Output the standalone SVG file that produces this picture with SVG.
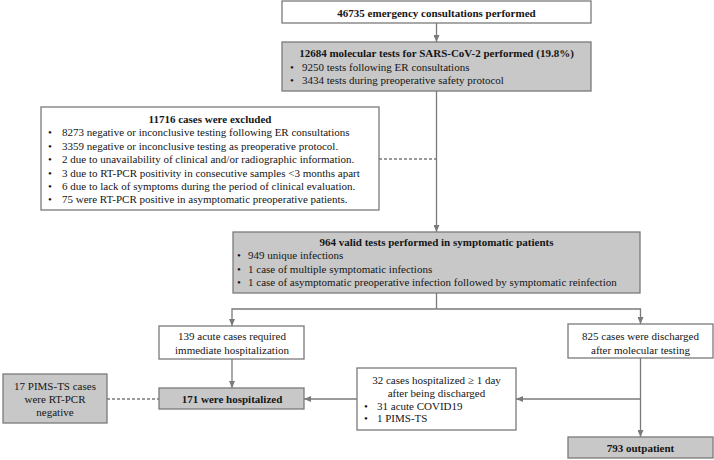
<svg xmlns="http://www.w3.org/2000/svg" width="714" height="460" viewBox="0 0 714 460">
<style>
.t{font-family:"Liberation Serif","Times New Roman",serif;font-size:11px;fill:#151515}
.c{text-anchor:middle}
.b{font-weight:bold}
.box{fill:#fff;stroke:#7a7a7a;stroke-width:1.3}
.gbox{fill:#c8c8c8;stroke:#7a7a7a;stroke-width:1.3}
.ln{stroke:#7a7a7a;stroke-width:1.3;fill:none}
.dash{stroke-dasharray:3 2}
</style>
<defs>
<marker id="ah" markerUnits="userSpaceOnUse" markerWidth="7" markerHeight="6" refX="7" refY="3" orient="auto">
<path d="M0,0 L7,3 L0,6 z" fill="#7a7a7a"/>
</marker>
</defs>
<rect width="714" height="460" fill="#fff"/>
<g id="connectors">
<line class="ln" x1="436.5" y1="23" x2="436.5" y2="42" marker-end="url(#ah)"/>
<line class="ln" x1="436.5" y1="91" x2="436.5" y2="232" marker-end="url(#ah)"/>
<line class="ln dash" x1="379" y1="159" x2="436.5" y2="159"/>
<polyline class="ln" points="436.5,293 436.5,309"/>
<polyline class="ln" points="436.5,309 232,309 232,326" marker-end="url(#ah)"/>
<polyline class="ln" points="436.5,309 640.5,309 640.5,324" marker-end="url(#ah)"/>
<line class="ln" x1="232" y1="359" x2="232" y2="388" marker-end="url(#ah)"/>
<line class="ln dash" x1="107" y1="399" x2="159" y2="399"/>
<line class="ln" x1="357" y1="399" x2="304" y2="399" marker-end="url(#ah)"/>
<line class="ln" x1="640.5" y1="358" x2="640.5" y2="437" marker-end="url(#ah)"/>
<line class="ln" x1="640.5" y1="399" x2="516" y2="399" marker-end="url(#ah)"/>
</g>
<g id="n1">
<rect class="box" x="282" y="1" width="309" height="22"/>
<text class="t c b" x="436.5" y="16.5">46735 emergency consultations performed</text>
</g>
<g id="n2">
<rect class="gbox" x="282" y="42" width="309" height="49"/>
<text class="t c b" x="436.5" y="57">12684 molecular tests for SARS-CoV-2 performed (19.8%)</text>
<text class="t" x="290" y="70.7">•</text><text class="t" x="302" y="70.7">9250 tests following ER consultations</text>
<text class="t" x="290" y="84.3">•</text><text class="t" x="302" y="84.3">3434 tests during preoperative safety protocol</text>
</g>
<g id="n3">
<rect class="box" x="41" y="107" width="338" height="103"/>
<text class="t c b" x="210" y="123">11716 cases were excluded</text>
<text class="t" x="48" y="136.4">•</text><text class="t" x="62" y="136.4">8273 negative or inconclusive testing following ER consultations</text>
<text class="t" x="48" y="149.8">•</text><text class="t" x="62" y="149.8">3359 negative or inconclusive testing as preoperative protocol.</text>
<text class="t" x="48" y="163.2">•</text><text class="t" x="62" y="163.2">2 due to unavailability of clinical and/or radiographic information.</text>
<text class="t" x="48" y="176.6">•</text><text class="t" x="62" y="176.6">3 due to RT-PCR positivity in consecutive samples &lt;3 months apart</text>
<text class="t" x="48" y="190">•</text><text class="t" x="62" y="190">6 due to lack of symptoms during the period of clinical evaluation.</text>
<text class="t" x="48" y="203.4">•</text><text class="t" x="62" y="203.4">75 were RT-PCR positive in asymptomatic preoperative patients.</text>
</g>
<g id="n4">
<rect class="gbox" x="233" y="232" width="407" height="61"/>
<text class="t c b" x="436.5" y="245.5">964 valid tests performed in symptomatic patients</text>
<text class="t" x="237" y="259">•</text><text class="t" x="248" y="259">949 unique infections</text>
<text class="t" x="237" y="272.5">•</text><text class="t" x="248" y="272.5">1 case of multiple symptomatic infections</text>
<text class="t" x="237" y="286">•</text><text class="t" x="248" y="286">1 case of asymptomatic preoperative infection followed by symptomatic reinfection</text>
</g>
<g id="n5">
<rect class="box" x="159" y="326" width="145" height="33"/>
<text class="t c" x="232" y="339.5">139 acute cases required</text>
<text class="t c" x="232" y="354">immediate hospitalization</text>
</g>
<g id="n6">
<rect class="box" x="568" y="324" width="145" height="34"/>
<text class="t c" x="640.5" y="339.5">825 cases were discharged</text>
<text class="t c" x="640.5" y="353.5">after molecular testing</text>
</g>
<g id="n7">
<rect class="gbox" x="3" y="374" width="104" height="49"/>
<text class="t c" x="55" y="389.5">17 PIMS-TS cases</text>
<text class="t c" x="55" y="403">were RT-PCR</text>
<text class="t c" x="55" y="415.5">negative</text>
</g>
<g id="n8">
<rect class="gbox" x="159" y="388" width="145" height="21"/>
<text class="t c b" x="232" y="403">171 were hospitalized</text>
</g>
<g id="n9">
<rect class="box" x="357" y="368" width="159" height="62"/>
<text class="t c" x="436.5" y="384">32 cases hospitalized ≥ 1 day</text>
<text class="t c" x="436.5" y="396.5">after being discharged</text>
<text class="t" x="364" y="409.5">•</text><text class="t" x="377" y="409.5">31 acute COVID19</text>
<text class="t" x="364" y="422">•</text><text class="t" x="377" y="422">1 PIMS-TS</text>
</g>
<g id="n10">
<rect class="gbox" x="568" y="437" width="145" height="21"/>
<text class="t c b" x="640.5" y="451.5">793 outpatient</text>
</g>
</svg>
